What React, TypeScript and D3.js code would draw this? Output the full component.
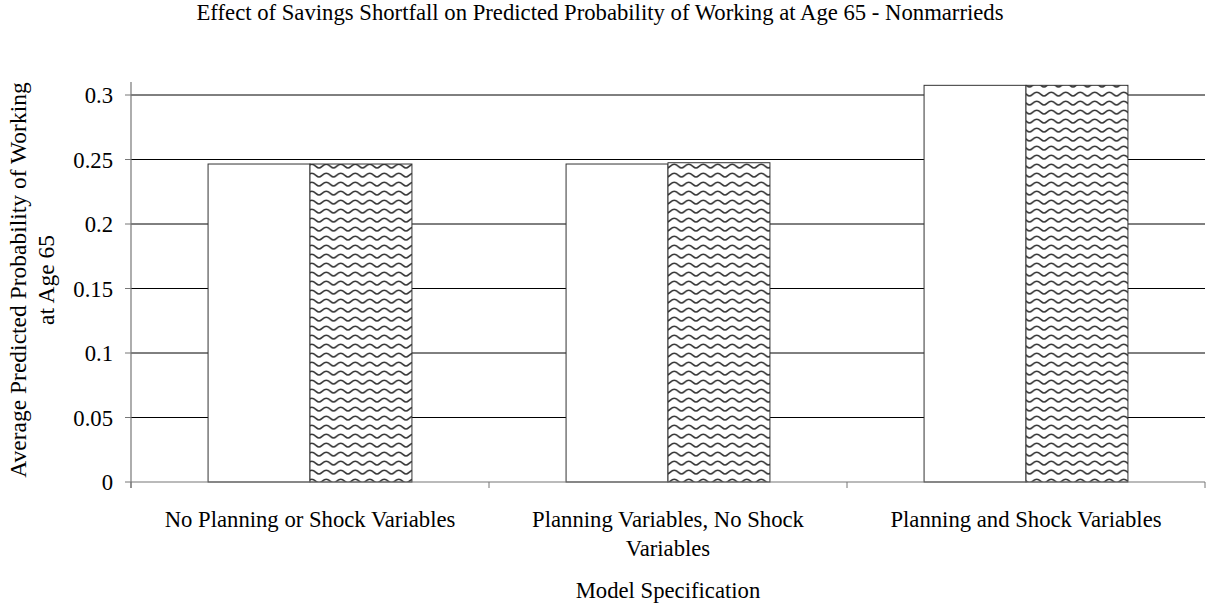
import React from "react";
import * as d3 from "d3";

const title = "Effect of Savings Shortfall on Predicted Probability of Working at Age 65 - Nonmarrieds";
const categories = [
  "No Planning or Shock Variables",
  "Planning Variables, No Shock Variables",
  "Planning and Shock Variables",
];
const categoryLines = [
  ["No Planning or Shock Variables"],
  ["Planning Variables, No Shock", "Variables"],
  ["Planning and Shock Variables"],
];
const baselineValues = [0.2465, 0.2465, 0.3075];
const shortfallValues = [0.2465, 0.2475, 0.3075];
const yTicks = [0, 0.05, 0.1, 0.15, 0.2, 0.25, 0.3];
const yTickLabels = ["0", "0.05", "0.1", "0.15", "0.2", "0.25", "0.3"];
const xTitle = "Model Specification";
const yTitleLines = ["Average Predicted Probability of Working", "at Age 65"];

const W = 1206;
const H = 608;
const left = 131;
const right = 1205;
const bottom = 482;
const FONT = "Liberation Serif";

export default function App() {
  const x = d3.scaleBand<string>().domain(categories).range([left, right]).paddingInner(0).paddingOuter(0);
  const y = d3.scaleLinear().domain([0, 0.31]).range([bottom, bottom - 0.31 * 1290]);
  const inner = d3.scaleBand<number>().domain([0, 1]).range([0, x.bandwidth()]).paddingInner(0).paddingOuter(0.756);
  const series = [baselineValues, shortfallValues];
  const fs = 22.7;
  const ts = { fontFamily: FONT, fontSize: fs };

  return (
    <svg width={W} height={H} style={{ position: "absolute", left: 0, top: 0, background: "#fff" }}>
      <defs>
        <pattern id="wave" patternUnits="userSpaceOnUse" width={14.5} height={9}>
          <rect width={14.5} height={9} fill="#fff" />
          <path d="M0,6 C2.6,6 3.8,2.2 7.25,2.2 C10.7,2.2 11.9,6 14.5,6" fill="none" stroke="#383838" strokeWidth={1.6} />
        </pattern>
      </defs>
      <text x={600} y={20} textAnchor="middle" style={ts} fill="#000">{title}</text>

      {yTicks.map((t, i) => (
        <g key={"g" + i}>
          {t > 0 && <line x1={left} x2={right} y1={y(t)} y2={y(t)} stroke="#000" strokeWidth={1} />}
          <line x1={left - 6} x2={left} y1={y(t)} y2={y(t)} stroke="#777" strokeWidth={1} />
          <text x={113} y={y(t) + 8} textAnchor="end" style={ts} fill="#000">{yTickLabels[i]}</text>
        </g>
      ))}

      {categories.map((c, ci) =>
        series.map((vals, si) => {
          const bx = (x(c) ?? 0) + (inner(si) ?? 0);
          return (
            <rect key={c + si} x={bx} y={y(vals[ci])} width={inner.bandwidth()} height={bottom - y(vals[ci])}
              fill={si === 0 ? "#fff" : "url(#wave)"} stroke="#333" strokeWidth={1} />
          );
        })
      )}

      <line x1={left} x2={left} y1={y.range()[1]} y2={bottom + 6} stroke="#777" strokeWidth={1.2} />
      <line x1={left} x2={right} y1={bottom} y2={bottom} stroke="#777" strokeWidth={1.2} />
      {[...categories.map((c) => x(c) ?? 0), right].map((tx, i) => (
        <line key={"xt" + i} x1={tx} x2={tx} y1={bottom} y2={bottom + 6} stroke="#777" strokeWidth={1} />
      ))}

      {categories.map((c, ci) => (
        <text key={"cl" + ci} textAnchor="middle" style={ts} fill="#000">
          {categoryLines[ci].map((ln, li) => (
            <tspan key={li} x={(x(c) ?? 0) + x.bandwidth() / 2} y={527 + li * 29}>{ln}</tspan>
          ))}
        </text>
      ))}

      <text x={668} y={598} textAnchor="middle" style={ts} fill="#000">{xTitle}</text>

      <g transform={`translate(0, 280) rotate(-90)`}>
        {yTitleLines.map((ln, i) => (
          <text key={i} x={0} y={26 + i * 28} textAnchor="middle" style={{ fontFamily: FONT, fontSize: 23.5 }} fill="#000">{ln}</text>
        ))}
      </g>
    </svg>
  );
}
